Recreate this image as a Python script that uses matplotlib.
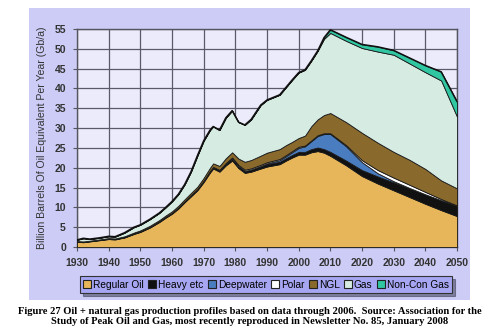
import matplotlib
matplotlib.use("Agg")
import matplotlib.pyplot as plt
from matplotlib.patches import Rectangle

years = [1930, 1932, 1934, 1937, 1940, 1942, 1945, 1948, 1950, 1953,
         1956, 1958, 1960, 1962, 1964, 1966, 1968, 1970, 1972, 1973,
         1975, 1977, 1979, 1981, 1983, 1985, 1988, 1990, 1994, 1996,
         1998, 2000, 2002, 2004, 2006, 2008, 2010, 2015, 2020, 2025,
         2030, 2035, 2040, 2045, 2050]

# Gb/a of oil equivalent, per category
regular_oil = [1.3, 1.2, 1.4, 1.7, 2.0, 1.9, 2.4, 3.3, 3.8, 4.9,
               6.3, 7.4, 8.4, 9.7, 11.3, 12.8, 14.3, 16.4, 18.8, 19.8,
               19.0, 20.6, 21.8, 19.9, 18.7, 19.0, 19.8, 20.3, 20.9, 21.8,
               22.6, 23.3, 23.3, 23.9, 24.2, 23.8, 23.0, 20.6, 17.9, 16.0,
               14.3, 12.6, 10.9, 9.3, 7.8]
heavy = [0.1, 0.1, 0.1, 0.1, 0.1, 0.1, 0.1, 0.15, 0.15, 0.15,
         0.2, 0.2, 0.2, 0.25, 0.25, 0.3, 0.3, 0.35, 0.4, 0.4,
         0.45, 0.5, 0.5, 0.5, 0.5, 0.55, 0.55, 0.6, 0.6, 0.6,
         0.65, 0.7, 0.7, 0.8, 0.9, 0.9, 1.0, 1.2, 1.5, 1.8,
         2.0, 2.2, 2.4, 2.5, 2.6]
deepwater = [0, 0, 0, 0, 0, 0, 0, 0, 0, 0,
             0, 0, 0, 0, 0, 0, 0, 0, 0, 0,
             0, 0, 0, 0, 0, 0, 0.1, 0.2, 0.4, 0.5,
             0.7, 1.0, 1.4, 2.0, 2.9, 3.8, 4.5, 3.6, 2.0, 0.8,
             0.3, 0.1, 0, 0, 0]
polar = [0, 0, 0, 0, 0, 0, 0, 0, 0, 0,
         0, 0, 0, 0, 0, 0, 0, 0, 0, 0,
         0, 0.1, 0.3, 0.3, 0.3, 0.3, 0.3, 0.3, 0.3, 0.3,
         0.3, 0.3, 0.2, 0.2, 0.2, 0.2, 0.2, 0.3, 0.5, 0.8,
         0.9, 0.8, 0.6, 0.3, 0.1]
ngl = [0.1, 0.1, 0.1, 0.1, 0.15, 0.15, 0.2, 0.2, 0.25, 0.3,
       0.3, 0.35, 0.4, 0.45, 0.5, 0.55, 0.6, 0.7, 0.8, 0.9,
       1.0, 1.2, 1.3, 1.6, 2.0, 2.1, 2.3, 2.4, 2.5, 2.5,
       2.3, 2.2, 2.5, 3.6, 4.0, 4.6, 5.1, 5.8, 6.9, 6.9,
       6.5, 6.3, 5.8, 4.7, 4.3]
gas = [0.3, 0.8, 0.4, 0.4, 0.45, 0.45, 0.9, 1.35, 1.4, 1.65,
       1.8, 2.05, 2.5, 2.9, 3.75, 5.35, 7.8, 9.35, 9.5, 9.3,
       9.05, 10.2, 10.5, 9.2, 9.3, 10.25, 12.75, 13.3, 13.7, 14.6,
       15.65, 16.5, 16.6, 16.5, 17.3, 19.2, 20.2, 20.5, 21.4, 23.0,
       24.5, 24.3, 24.4, 25.2, 18.1]
noncon_gas = [0, 0, 0, 0, 0, 0, 0, 0, 0, 0,
              0, 0, 0, 0, 0, 0, 0, 0, 0, 0,
              0, 0, 0, 0, 0, 0, 0, 0, 0, 0,
              0, 0, 0, 0, 0, 0.3, 0.8, 0.9, 0.9, 1.2,
              1.1, 1.4, 1.7, 2.2, 3.8]

labels = ["Regular Oil", "Heavy etc", "Deepwater", "Polar", "NGL", "Gas", "Non-Con Gas"]
colors = ["#e8b65a", "#111111", "#4a7cc0", "#ffffff", "#8a6a2c", "#d6ece3", "#30c6a2"]

x_ticks = list(range(1930, 2051, 10))
y_ticks = list(range(0, 56, 5))

fig = plt.figure(figsize=(5, 3.34), dpi=100)

# lavender panel behind the chart and legend
fig.patches.append(Rectangle((0.058, 0.102), 0.882, 0.874, transform=fig.transFigure,
                             facecolor="#ccccf6", edgecolor="none", zorder=-5))

ax = fig.add_axes([0.154, 0.2605, 0.76, 0.6527], zorder=2)
ax.set_facecolor("#ebebfb")
ax.stackplot(years, regular_oil, heavy, deepwater, polar, ngl, gas, noncon_gas,
             colors=colors, edgecolor="#1a1a1a", linewidth=0.6, zorder=3)

# heavier outline along the top of the stack
top = [sum(v) for v in zip(regular_oil, heavy, deepwater, polar, ngl, gas, noncon_gas)]
ax.plot(years, top, color="#111111", lw=1.1, zorder=4)

ax.set_xlim(1930, 2050)
ax.set_ylim(0, 55)
ax.set_xticks(x_ticks)
ax.set_yticks(y_ticks)
ax.grid(True, color="#5a5a6a", lw=0.9, zorder=1)
ax.set_axisbelow(True)
for s in ax.spines.values():
    s.set_color("#555560")
    s.set_linewidth(1.0)
ax.tick_params(length=3, color="#555560", labelsize=7.5, labelcolor="#333333", pad=5)
for t in ax.get_xticklabels() + ax.get_yticklabels():
    t.set_fontweight("bold")
    t.set_family("Liberation Sans")
ax.set_ylabel("Billion Barrels Of Oil Equivalent Per Year (Gb/a)", fontsize=7.6,
              color="#333333", family="Liberation Sans", labelpad=5)

handles = [Rectangle((0, 0), 1, 1, facecolor=c, edgecolor="#222222", lw=0.8) for c in colors]
leg = fig.legend(handles, labels, loc="center", bbox_to_anchor=(0.532, 0.148), ncol=7,
                 frameon=True, fancybox=False, shadow=True,
                 handlelength=0.8, handleheight=0.8, handletextpad=0.2,
                 columnspacing=0.4, borderpad=0.35,
                 prop={"family": "Liberation Sans", "size": 7.3})
leg.get_frame().set_facecolor("#a6a6f2")
leg.get_frame().set_edgecolor("#333333")
leg.get_frame().set_linewidth(0.8)

fig.text(0.5, 0.052,
         "Figure 27 Oil + natural gas production profiles based on data through 2006.  "
         "Source: Association for the\nStudy of Peak Oil and Gas, most recently reproduced "
         "in Newsletter No. 85, January 2008",
         ha="center", va="center", family="Liberation Serif", fontweight="bold",
         fontsize=7.6, linespacing=1.15)

fig.savefig("out.png", dpi=100, facecolor="white")
